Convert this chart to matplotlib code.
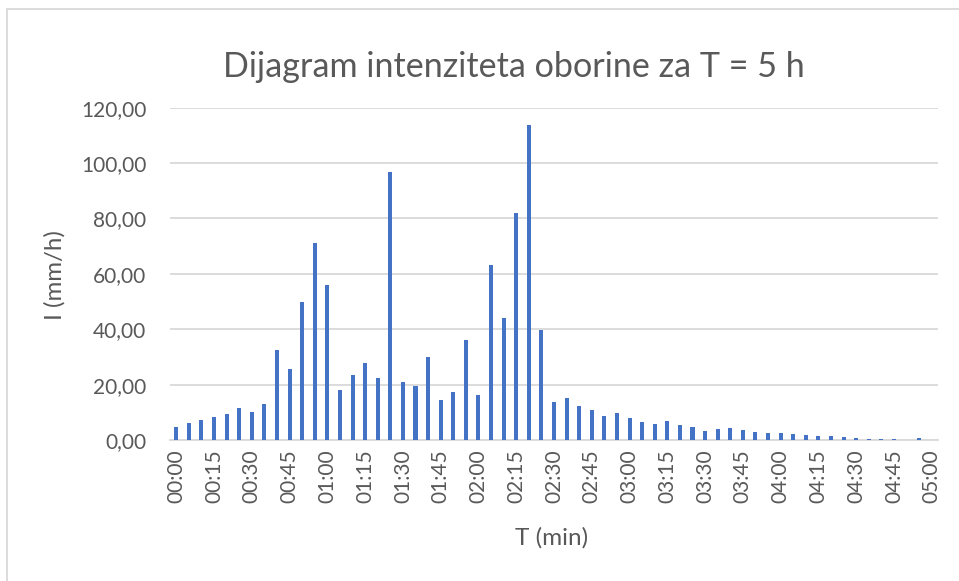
import matplotlib
matplotlib.use("Agg")
import matplotlib.pyplot as plt
from matplotlib.patches import Rectangle

plt.rcParams['font.family'] = ['Lato', 'DejaVu Sans']

categories = [
    "00:00", "00:05", "00:10", "00:15", "00:20", "00:25", "00:30", "00:35", "00:40", "00:45",
    "00:50", "00:55", "01:00", "01:05", "01:10", "01:15", "01:20", "01:25", "01:30", "01:35",
    "01:40", "01:45", "01:50", "01:55", "02:00", "02:05", "02:10", "02:15", "02:20", "02:25",
    "02:30", "02:35", "02:40", "02:45", "02:50", "02:55", "03:00", "03:05", "03:10", "03:15",
    "03:20", "03:25", "03:30", "03:35", "03:40", "03:45", "03:50", "03:55", "04:00", "04:05",
    "04:10", "04:15", "04:20", "04:25", "04:30", "04:35", "04:40", "04:45", "04:50", "04:55",
    "05:00",
]
intensity = [
    4.8, 6.1, 7.3, 8.2, 9.3, 11.6, 10.2, 13.0, 32.6, 25.6,
    49.8, 71.1, 55.8, 18.2, 23.6, 27.8, 22.3, 96.6, 20.8, 19.5,
    30.0, 14.4, 17.2, 36.1, 16.1, 63.2, 43.9, 82.1, 113.6, 39.8,
    13.7, 15.2, 12.4, 11.0, 8.8, 9.7, 7.8, 6.4, 5.7, 6.9,
    5.3, 4.6, 3.2, 3.9, 4.2, 3.6, 2.9, 2.6, 2.4, 2.2,
    1.8, 1.6, 1.3, 1.1, 0.7, 0.5, 0.4, 0.2, 0.1, 0.8,
    0.0,
]
tick_labels = ["00:00", "00:15", "00:30", "00:45", "01:00", "01:15", "01:30", "01:45",
               "02:00", "02:15", "02:30", "02:45", "03:00", "03:15", "03:30", "03:45",
               "04:00", "04:15", "04:30", "04:45", "05:00"]
y_ticks = [0, 20, 40, 60, 80, 100, 120]

W, H = 959, 581
fig = plt.figure(figsize=(W / 100, H / 100), dpi=100)
fig.patch.set_facecolor("white")

left, right, top, bottom = 170, 938, 107.7, 440
ax = fig.add_axes([left / W, 1 - bottom / H, (right - left) / W, (bottom - top) / H])

xpos = list(range(len(categories)))
ax.bar(xpos, intensity, width=0.32, color="#4472C4", zorder=3)

ax.set_xlim(-0.5, len(categories) - 0.5)
ax.set_ylim(0, 120)
ax.set_yticks(y_ticks)
ax.set_yticklabels([f"{v:.2f}".replace(".", ",") for v in y_ticks])
tick_idx = [categories.index(t) for t in tick_labels]
ax.set_xticks(tick_idx)
ax.set_xticklabels(tick_labels, rotation=90)

text_color = "#595959"
ax.tick_params(axis="both", length=0, labelsize=15, colors=text_color)
ax.tick_params(axis="y", pad=17)
ax.tick_params(axis="x", pad=7)
ax.grid(axis="y", color="#D9D9D9", linewidth=1.3, zorder=0)
for s in ["top", "right", "left"]:
    ax.spines[s].set_visible(False)
ax.spines["bottom"].set_color("#D9D9D9")
ax.spines["bottom"].set_linewidth(1.3)

fig.text(514 / W, 1 - 77 / H, "Dijagram intenziteta oborine za T = 5 h",
         ha="center", va="baseline", fontsize=24.6, color=text_color)
fig.text(55 / W, 1 - 275 / H, "I (mm/h)", rotation=90, ha="center", va="center",
         fontsize=17.3, color=text_color)
fig.text(552 / W, 1 - 545 / H, "T (min)", ha="center", va="baseline",
         fontsize=17.5, color=text_color)

fig.patches.append(Rectangle((7 / W, -0.1), 1.2, (1 - 9 / H) + 0.1,
                             transform=fig.transFigure, fill=False,
                             edgecolor="#D9D9D9", linewidth=1.3))

fig.savefig("out.png", dpi=100)
